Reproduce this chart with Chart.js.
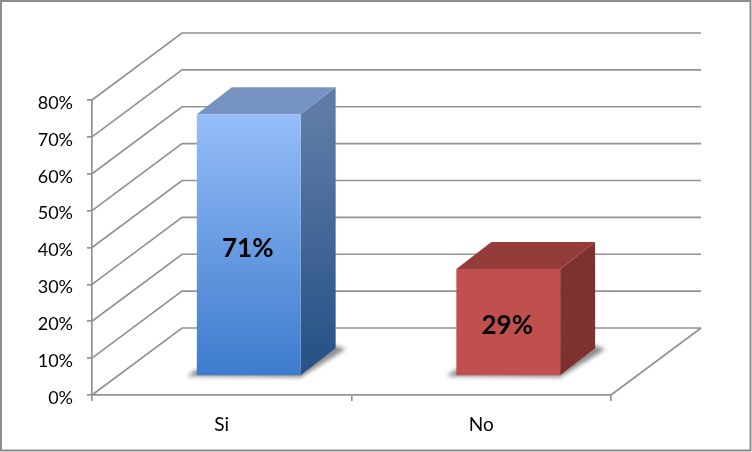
<!DOCTYPE html>
<html>
<head>
<meta charset="utf-8">
<style>html,body{margin:0;padding:0;background:#fff}canvas{display:block}</style>
<script src="https://cdn.jsdelivr.net/npm/chart.js@4"></script>
</head>
<body>
<canvas id="c" width="752" height="452"></canvas>
<script>
const categories = ['Si', 'No'];
const shares = [71, 29];
const yMax = 80;
const yStep = 10;

const WALL = {dx: 90, dy: -67};
const BAR_SHIFT = {dx: 27, dy: -19};
const BAR_DEPTH = {dx: 35, dy: -27};
const GRID = '#939393';

function poly(ctx, pts) {
  ctx.beginPath();
  pts.forEach((p, i) => i ? ctx.lineTo(p[0], p[1]) : ctx.moveTo(p[0], p[1]));
  ctx.closePath();
}
function vGrad(ctx, y0, y1, a, b) {
  const g = ctx.createLinearGradient(0, y0, 0, y1);
  g.addColorStop(0, a); g.addColorStop(1, b);
  return g;
}

const scene = {
  id: 'scene',
  beforeDraw(chart) {
    const ctx = chart.ctx, y = chart.scales.y, x = chart.scales.x;
    ctx.save();
    ctx.fillStyle = '#fff';
    ctx.fillRect(0, 0, chart.width, chart.height);
    ctx.strokeStyle = GRID;
    ctx.lineWidth = 1.7;
    y.ticks.forEach(t => {
      const py = y.getPixelForValue(t.value);
      ctx.beginPath();
      ctx.moveTo(x.left, py);
      ctx.lineTo(x.left + WALL.dx, py + WALL.dy);
      ctx.lineTo(x.right + WALL.dx, py + WALL.dy);
      ctx.stroke();
    });
    const b = y.getPixelForValue(0);
    ctx.beginPath();
    ctx.moveTo(x.right, b);
    ctx.lineTo(x.right + WALL.dx, b + WALL.dy);
    ctx.stroke();
    ctx.restore();
  },
  beforeDatasetsDraw(chart) {
    const ctx = chart.ctx;
    const els = chart.getDatasetMeta(0).data;
    const sideCols = [['#5F7BA6', '#2A5488'], ['#7D3230', '#7D3230']];
    const topCols = ['#7793C1', '#943C3A'];
    ctx.save();
    ctx.translate(BAR_SHIFT.dx, BAR_SHIFT.dy);
    els.forEach((el, i) => {
      const l = el.x - el.width / 2, r = el.x + el.width / 2, t = el.y, b = el.base;
      const d = BAR_DEPTH;
      ctx.save();
      ctx.filter = 'blur(2px)';
      ctx.fillStyle = '#8c8c8c';
      poly(ctx, [[l - 10, b + 1], [r, b + 2], [r + d.dx + 10, b + d.dy + 1], [r + d.dx, b + d.dy - 3], [r, b - 6], [l, b - 6]]);
      ctx.fill();
      ctx.restore();
      ctx.fillStyle = vGrad(ctx, t, b + d.dy, sideCols[i][0], sideCols[i][1]);
      poly(ctx, [[r, t], [r + d.dx, t + d.dy], [r + d.dx, b + d.dy], [r, b]]);
      ctx.fill();
      ctx.fillStyle = topCols[i];
      poly(ctx, [[l, t], [l + d.dx, t + d.dy], [r + d.dx, t + d.dy], [r, t]]);
      ctx.fill();
    });
  },
  afterDatasetsDraw(chart) {
    const ctx = chart.ctx;
    const els = chart.getDatasetMeta(0).data;
    ctx.fillStyle = '#000';
    ctx.font = 'bold 26px Lato';
    ctx.textAlign = 'center';
    ctx.textBaseline = 'middle';
    els.forEach((el, i) => {
      ctx.fillText(shares[i] + '%', el.x - 1, (el.y + el.base) / 2 + 4);
    });
    ctx.restore();
  },
  afterDraw(chart) {
    const ctx = chart.ctx;
    ctx.save();
    ctx.strokeStyle = '#8c8c8c';
    ctx.lineWidth = 2;
    ctx.strokeRect(1, 1, 749.5, 449.5);
    ctx.restore();
  }
};

new Chart(document.getElementById('c'), {
  type: 'bar',
  data: {
    labels: categories,
    datasets: [{
      data: shares,
      barPercentage: 0.8,
      categoryPercentage: 0.5,
      backgroundColor(c) {
        if (c.dataIndex === 1) return '#C0504D';
        const a = c.chart.chartArea;
        if (!a) return '#6A9FE6';
        const el = c.chart.getDatasetMeta(0).data[0];
        const top = el && isFinite(el.y) ? el.y : a.top;
        return vGrad(c.chart.ctx, top, a.bottom, '#A0C5FF', '#3D7BCC');
      }
    }]
  },
  options: {
    responsive: false,
    animation: false,
    layout: {padding: {left: 0, right: 141, top: 100, bottom: 0}},
    plugins: {legend: {display: false}, tooltip: {enabled: false}},
    scales: {
      x: {
        afterFit(s) { s.height = 57; },
        grid: {drawOnChartArea: false, drawTicks: true, tickLength: 6, color: GRID, lineWidth: 1.7},
        border: {color: GRID, width: 1.7},
        ticks: {color: '#000', padding: 12, font: {family: 'Lato', size: 19}}
      },
      y: {
        min: 0,
        max: yMax,
        afterFit(s) { s.width = 92; },
        grid: {drawOnChartArea: false, drawTicks: true, tickLength: 5, color: GRID, lineWidth: 1.7},
        border: {color: GRID, width: 1.7},
        ticks: {stepSize: yStep, color: '#000', padding: 14, labelOffset: 3, font: {family: 'Lato', size: 18}, callback: v => v + '%'}
      }
    }
  },
  plugins: [scene]
});
</script>
</body>
</html>
